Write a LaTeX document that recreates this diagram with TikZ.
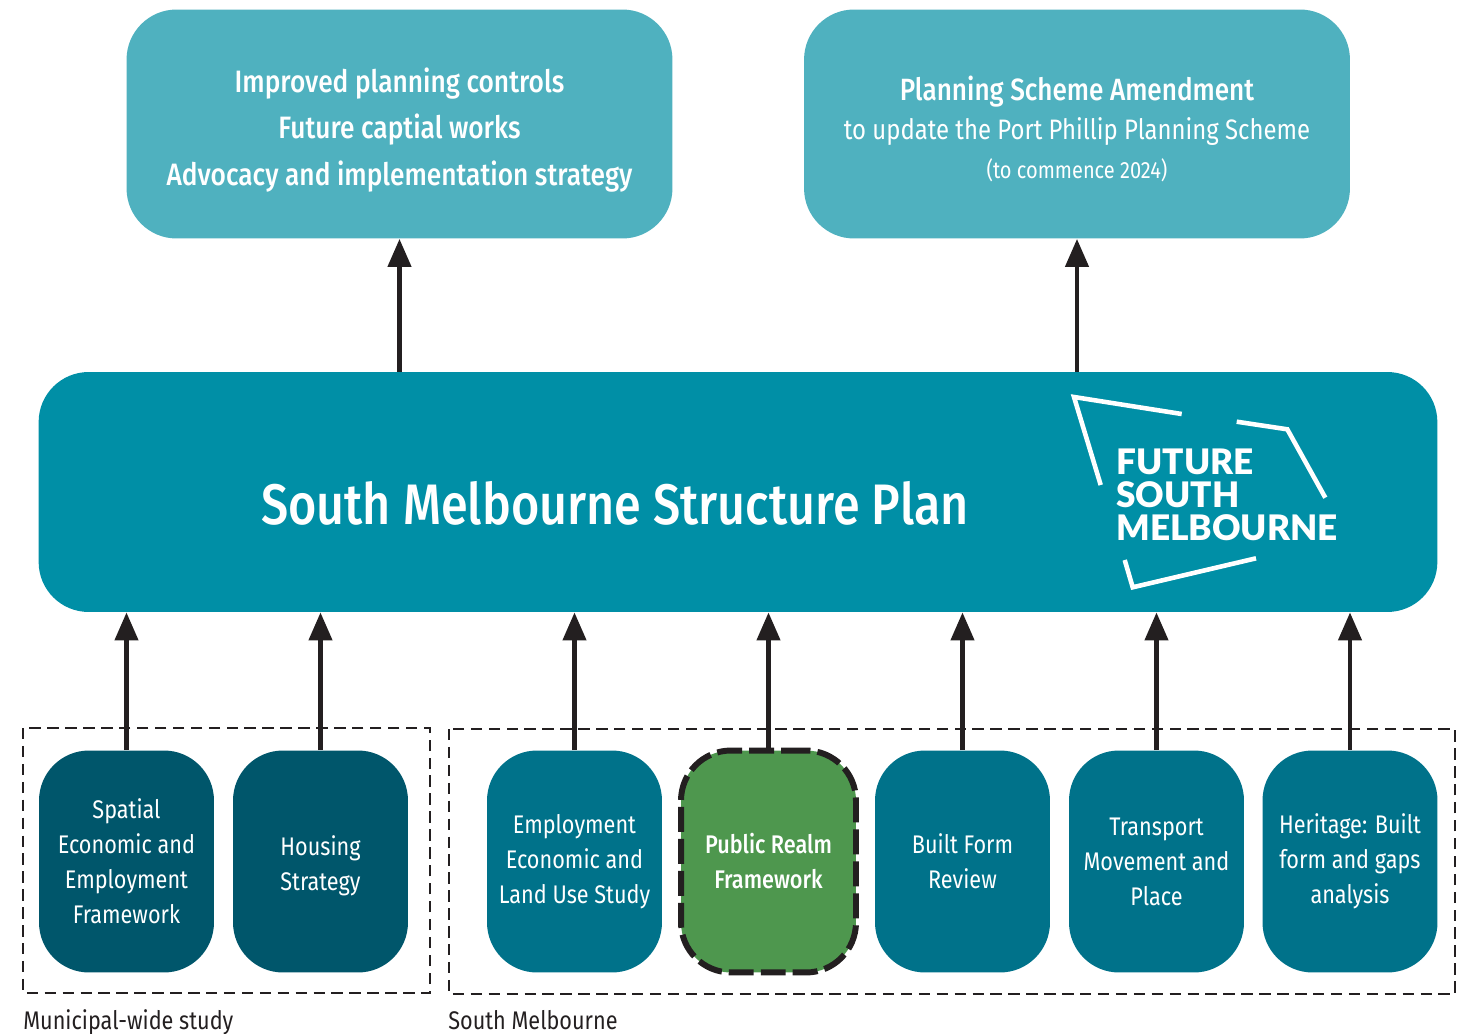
\documentclass[tikz,border=0pt]{standalone}
\usepackage{fontspec}
\setmainfont[FakeStretch=0.85]{Fira Sans}
\newfontfamily\mediumfont[FakeStretch=0.85]{Fira Sans Medium}
\newfontfamily\logofont{Lato Black}
\usetikzlibrary{arrows.meta}
\definecolor{topteal}{HTML}{4FB1BF}
\definecolor{mainteal}{HTML}{008FA6}
\definecolor{studyteal}{HTML}{00728A}
\definecolor{darkteal}{HTML}{00566B}
\definecolor{realmgreen}{HTML}{4E974E}
\definecolor{inkblack}{HTML}{231F20}
\tikzset{
    outcome/.style={fill=topteal, rounded corners=1cm, minimum width=10.92cm, minimum height=4.58cm},
    outcometext/.style={text=white, inner sep=0pt, align=center},
    study/.style={fill=studyteal, text=white, rounded corners=1cm, minimum width=3.5cm, minimum height=4.44cm, inner sep=0pt, align=center, font=\fontsize{14.5}{19.9}\selectfont},
    municipal/.style={study, fill=darkteal},
    realm/.style={study, fill=realmgreen, draw=inkblack, line width=3.4pt, dash pattern=on 14.2pt off 4pt, font=\mediumfont\fontsize{14.5}{19.9}\selectfont},
    flow/.style={-{Triangle[length=16pt, width=13pt]}, line width=2.8pt, color=inkblack},
    group/.style={draw=inkblack, line width=1.4pt, dash pattern=on 6.5pt off 3.7pt},
    grouplabel/.style={anchor=base west, inner sep=0pt, text=inkblack, font=\fontsize{14.5}{16}\selectfont},
    logoline/.style={draw=white, line width=2.6pt},
}
\begin{document}
\begin{tikzpicture}[x=0.02cm, y=-0.02cm]
    \useasboundingbox (0,0) rectangle (1472,1034);

    \node[outcome] (controls) at (399.5,124) {};
    \node[outcometext, font=\mediumfont\fontsize{17.6}{26.4}\selectfont] (controlstext) at (399.5,130) {Improved planning controls\\ Future captial works\\ Advocacy and implementation strategy};
    \node[outcome] (amendment) at (1077,124) {};
    \node[outcometext, font=\fontsize{16}{22}\selectfont] (amendmenttext) at (1077,129) {{\mediumfont\fontsize{17.5}{22}\selectfont Planning Scheme Amendment}\\ to update the Port Phillip Planning Scheme\\ {\fontsize{13.4}{22}\selectfont (to commence 2024)}};
    \node[fill=mainteal, rounded corners=1cm, minimum width=27.98cm, minimum height=4.8cm] (plan) at (738,492) {};
    \node[text=white, inner sep=0pt, font=\mediumfont\fontsize{32.5}{36}\selectfont] (plantitle) at (615,503) {South Melbourne Structure Plan};

    \node[municipal] (spatial) at (126.5,861.5) {Spatial\\ Economic and\\ Employment\\ Framework};
    \node[municipal] (housing) at (320.5,861.5) {\rule{0pt}{16pt}Housing\\ Strategy};
    \node[study] (employment) at (574.5,861.5) {Employment\\ Economic and\\ Land Use Study};
    \node[study] (builtform) at (962.5,861.5) {Built Form\\ Review};
    \node[study] (transport) at (1156.5,861.5) {Transport\\ Movement and\\ Place};
    \node[study] (heritage) at (1350,861.5) {Heritage: Built\\ form and gaps\\ analysis};

    \draw[flow] (plan.north -| controls) -- (controls.south);
    \draw[flow] (plan.north -| amendment) -- (amendment.south);
    \draw[flow] (spatial.north) -- (spatial.north |- plan.south);
    \draw[flow] (housing.north) -- (housing.north |- plan.south);
    \draw[flow] (employment.north) -- (employment.north |- plan.south);
    \coordinate (realmtop) at (768.5,751);
    \draw[flow] (realmtop) -- (realmtop |- plan.south);
    \draw[flow] (builtform.north) -- (builtform.north |- plan.south);
    \draw[flow] (transport.north) -- (transport.north |- plan.south);
    \draw[flow] (heritage.north) -- (heritage.north |- plan.south);

    \node[realm] (publicrealm) at (768.5,861.5) {Public Realm\\ Framework};

    \draw[group] (23,728) rectangle (430,993);
    \draw[group] (449,729) rectangle (1455,994);
    \node[grouplabel] (municipallabel) at (23,1029) {Municipal-wide study};
    \node[grouplabel] (southlabel) at (448,1029) {South Melbourne};

    \draw[logoline] (1181.7,414) -- (1074,397) -- (1100.7,485);
    \draw[logoline] (1236.7,421.7) -- (1287.3,429.3) -- (1325.3,497.7);
    \draw[logoline] (1124.7,560) -- (1132.7,587.3) -- (1256,558.3);
    \node[anchor=base west, inner sep=0pt, text=white, align=left, font=\logofont\fontsize{20}{18.6}\selectfont] (logotext) at (1116,540) {FUTURE\\ SOUTH\\ MELBOURNE};
\end{tikzpicture}
\end{document}
